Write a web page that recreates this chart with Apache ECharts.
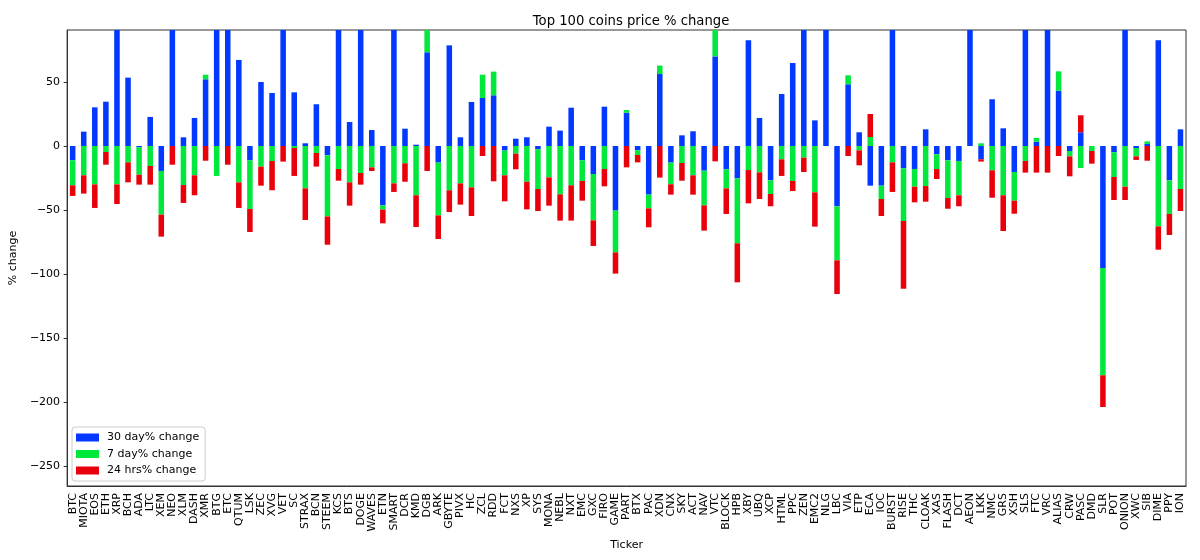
<!DOCTYPE html>
<html>
<head>
<meta charset="utf-8">
<script src="https://cdn.jsdelivr.net/npm/echarts@6/dist/echarts.min.js"></script>
<style>html,body{margin:0;padding:0;background:#fff;}#c{width:1200px;height:560px;}</style>
</head>
<body>
<div id="c"></div>
<script>
const tickers = ["BTC","MIOTA","EOS","ETH","XRP","BCH","ADA","LTC","XEM","NEO","XLM","DASH","XMR","BTG","ETC","QTUM","LSK","ZEC","XVG","VET","SC","STRAX","BCN","STEEM","KCS","BTS","DOGE","WAVES","ETN","SMART","DCR","KMD","DGB","ARK","GBYTE","PIVX","HC","ZCL","RDD","FCT","NXS","XP","SYS","MONA","NEBL","NXT","EMC","GXC","FIRO","GAME","PART","BTX","PAC","XDN","CNX","SKY","ACT","NAV","VTC","BLOCK","HPB","XBY","UBQ","XCP","HTML","PPC","ZEN","EMC2","NLG","LBC","VIA","ETP","ECA","IOC","BURST","RISE","THC","CLOAK","XAS","FLASH","DCT","AEON","LKK","NMC","GRS","XSH","SLS","FTC","VRC","ALIAS","CRW","PASC","DMD","SLR","POT","ONION","XWC","SIB","DIME","PPY","ION"];

const change30d = [-11.2,11.2,30.2,34.6,140,53.4,-1,22.7,-19.5,130,6.8,21.9,52.1,120,110,67.2,-11.2,50,41.4,160,41.9,2.1,32.6,-7.3,100,18.75,200,12.5,-46.4,150,13.5,1,73.2,-13,78.6,6.8,34.4,37.5,39.6,-3.6,5.7,6.8,-2.6,15.1,12,29.9,-11.2,-21.9,30.7,-50.5,26,-3.4,-38,56.2,-13,8.3,11.5,-19.3,70,-18.2,-25.3,82.6,21.9,-26.8,40.6,64.8,130,20,110,-47.1,48.2,10.7,-31,-31,170,-17.4,-18,13,-6.5,-11.2,-11.7,250,-10.4,36.5,13.8,-20.3,140,3.4,120,43.2,-3.9,10.7,0,-95.3,-4.9,160,-1.6,1.6,82.6,-26.8,13];

const change7d = [-19.5,-22.9,-30,-4.7,-30,-12.8,-21.4,-15.6,-34.1,0,-30.5,-22.9,3.6,-23.4,0,-28.4,-38,-16.1,-11.7,0,-1.6,-33.1,-5.5,-47.7,-18,-28.4,-21.1,-16.7,-3.3,-29.2,-13.5,-38.5,20,-41.2,-34.6,-29.2,-32.3,18.2,18.5,-19.3,-6,-27.9,-31,-24.5,-37.8,-30.7,-16.1,-36.2,-18,-32.6,2.1,-3.6,-10.7,6.6,-16.9,-13.3,-22.9,-27.1,22,-14.9,-50.7,-18.8,-20.6,-10.7,-10.4,-27.3,-9.1,-36.2,0,-42.2,7,-3.4,7,-10.4,-12.8,-41.2,-13.8,-31.3,-11.5,-29.4,-26.8,0,2.1,-19,-38.5,-22.4,-11.7,2.9,0,15.1,-4.2,-17.2,-3.9,-83.8,-19.3,-31.8,-6.5,2,-62.8,-26.3,-33.6];

const change24h = [-8.3,-14.3,-18.4,-9.9,-15.3,-15.6,-7.8,-14.6,-17.2,-14.6,-14,-15.6,-11.5,0,-14.6,-20,-18,-14.9,-22.9,-12.2,-21.8,-24.7,-10.6,-22.1,-9.1,-18.2,-9.1,-2.8,-10.7,-6.7,-14.4,-24.8,-19.5,-18.5,-17,-16.6,-22.4,-7.8,-27.6,-20.3,-12.2,-21.6,-17.2,-22.1,-20.5,-27.6,-15.4,-20,-13.5,-16.6,-16.7,-5.8,-14.8,-24.7,-8.1,-13.8,-15.1,-19.7,-12,-20,-30.5,-26,-20.8,-9.6,-13,-7.9,-11.2,-26.8,0,-26.3,-7.8,-11.7,18,-13.3,-23.1,-52.9,-12.2,-12.2,-7.8,-8.4,-8.6,0,-1.8,-21.4,-27.9,-10.2,-9.1,-20.8,-20.8,-7.8,-15.6,13.3,-9.9,-24.8,-18,-10.4,-2.8,-11.5,-18.2,-16.4,-17.2];

const yTicks = [-250,-200,-150,-100,-50,0,50];
const seriesNames = ["30 day% change","7 day% change","24 hrs% change"];

const FONT = "DejaVu Sans";
const FS = 11;
const chart = echarts.init(document.getElementById('c'), null, {renderer:'canvas'});
const colors = ['#0238ff','#00e83c','#e8000b'];
const mk = (name, data, color) => ({
  name, type:'bar', stack:'total', data, barWidth:'50%', clip:true,
  itemStyle:{color}, emphasis:{disabled:true}
});
chart.setOption({
  animation:false,
  textStyle:{fontFamily:FONT},
  title:{text:'Top 100 coins price % change', left:626, textAlign:'center', top:10,
    textStyle:{fontFamily:FONT, fontSize:13.2, fontWeight:'normal', color:'#000'}},
  grid:{left:66, right:14, top:30, bottom:74, show:true, borderColor:'#333', borderWidth:1, backgroundColor:'transparent'},
  legend:{orient:'vertical', left:72, top:427, padding:[4,6,4,4], itemGap:3.5, itemWidth:23, itemHeight:8,
    icon:'rect', backgroundColor:'#fff', borderColor:'#ccc', borderWidth:1, borderRadius:3,
    textStyle:{fontFamily:FONT, fontSize:FS, color:'#000', padding:[0,0,0,3], lineHeight:13},
    data:seriesNames},
  xAxis:{type:'category', data:tickers, name:'Ticker', nameLocation:'middle', nameGap:50,
    nameTextStyle:{fontFamily:FONT, fontSize:FS, color:'#000'},
    axisLine:{onZero:false, lineStyle:{color:'#333', width:1}},
    axisTick:{alignWithLabel:true, length:3.5, lineStyle:{color:'#333'}},
    axisLabel:{interval:0, rotate:90, margin:7, fontFamily:FONT, fontSize:FS, color:'#000'},
    splitLine:{show:false}},
  yAxis:{type:'value', min:-265.6, max:90.6, name:'% change', nameLocation:'middle', nameGap:43,
    nameTextStyle:{fontFamily:FONT, fontSize:FS, color:'#000'},
    axisLine:{show:true, lineStyle:{color:'#333', width:1}},
    axisTick:{show:true, length:3.5, customValues:yTicks, lineStyle:{color:'#333'}},
    axisLabel:{customValues:yTicks, margin:7, fontFamily:FONT, fontSize:FS, color:'#000',
      formatter:v=>String(v).replace('-','\u2212')},
    splitLine:{show:false}},
  series:[mk(seriesNames[0],change30d,colors[0]), mk(seriesNames[1],change7d,colors[1]), mk(seriesNames[2],change24h,colors[2])]
});
</script>
</body>
</html>
